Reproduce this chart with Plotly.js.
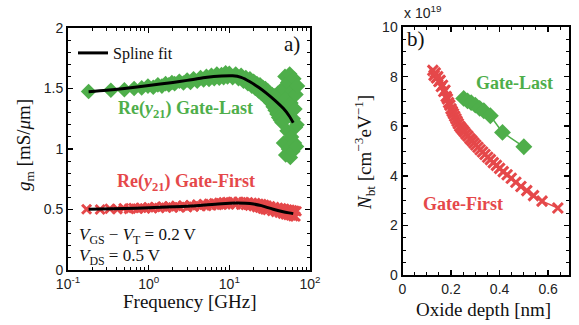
<!DOCTYPE html>
<html>
<head>
<meta charset="utf-8">
<script src="https://cdn.plot.ly/plotly-3.0.1.min.js"></script>
<style>html,body{margin:0;padding:0;background:#fff;}#plot{width:579px;height:325px;}</style>
</head>
<body>
<div id="plot"></div>
<script>
// ---------- Panel a) data ----------
const freqLast = [0.18,0.34,0.5,0.66,0.82,0.98,1.14,1.3,1.46,1.62,1.78,1.94,2.1,2.4,2.7,3.0,3.3,3.6,4.0,4.4,4.8,5.2,5.6,6.0,6.5,7,7.5,8,8.5,9,9.5,10,11,12,13,14,15,16,17,18,19,20,21,22,23,24,25,26,27,28,29,30,31,32,33,34,35,36,37,38,39,40,41,42,43,44,45,46,47,48,49,50,51,52,53,54,55,56,57,58,59,60,61,62,63,64,65,66,67,68,69,70];
const gmLast = [1.475,1.485,1.49,1.50,1.505,1.52,1.51,1.53,1.52,1.54,1.53,1.55,1.54,1.56,1.545,1.57,1.55,1.58,1.56,1.59,1.57,1.60,1.575,1.61,1.58,1.62,1.585,1.615,1.59,1.63,1.595,1.625,1.59,1.62,1.58,1.61,1.56,1.59,1.54,1.58,1.52,1.56,1.50,1.54,1.48,1.53,1.46,1.51,1.44,1.50,1.42,1.48,1.40,1.46,1.38,1.45,1.35,1.44,1.32,1.43,1.29,1.46,1.26,1.44,1.24,1.40,1.22,1.50,1.05,1.35,1.60,0.95,1.42,1.15,1.55,1.00,1.28,1.62,0.93,1.38,1.10,1.48,0.98,1.25,1.58,1.05,1.33,1.18,1.45,1.02,1.20,1.52,1.10,1.35];
const freqFirst = [0.17,0.25,0.33,0.41,0.49,0.57,0.65,0.73,0.81,0.9,1.0,1.1,1.2,1.35,1.5,1.65,1.8,2.0,2.2,2.4,2.7,3.0,3.3,3.6,4.0,4.4,4.8,5.2,5.6,6.0,6.5,7,7.5,8,8.5,9,9.5,10,11,12,13,14,15,16,17,18,19,20,21,22,23,24,25,26,27,28,29,30,32,34,36,38,40,42,44,46,48,50,52,54,56,58,60,62,64,66,68];
const gmFirst = [0.502,0.500,0.506,0.503,0.510,0.505,0.512,0.507,0.515,0.508,0.519,0.510,0.521,0.512,0.525,0.514,0.527,0.516,0.530,0.518,0.533,0.520,0.536,0.523,0.540,0.527,0.544,0.530,0.548,0.534,0.552,0.537,0.556,0.540,0.560,0.542,0.562,0.543,0.563,0.542,0.564,0.540,0.562,0.537,0.560,0.532,0.556,0.528,0.553,0.520,0.548,0.514,0.544,0.506,0.538,0.500,0.532,0.496,0.527,0.488,0.520,0.480,0.514,0.474,0.510,0.466,0.505,0.460,0.500,0.455,0.497,0.450,0.494,0.445,0.490,0.442,0.486];
const splineFreqLast = [0.18,0.3,0.5,1,2,3,5,8,11,14,18,23,29,37,46.6,55,62];
const splineLast = [1.474,1.485,1.50,1.525,1.55,1.567,1.59,1.603,1.605,1.592,1.556,1.51,1.46,1.40,1.336,1.275,1.217];
const splineFreqFirst = [0.18,0.5,1,2,3,5,8,12,16,20,25,30,35,45,55,62];
const splineFirst = [0.502,0.508,0.515,0.522,0.527,0.537,0.548,0.553,0.551,0.545,0.532,0.515,0.502,0.484,0.472,0.466];
const freqTickVals = [0.1,1,10,100];
const freqTickText = ['10<sup>-1</sup>','10<sup>0</sup>','10<sup>1</sup>','10<sup>2</sup>'];

// ---------- Panel b) data (Nbt in units of 1e19) ----------
const depthFirst = [0.125,0.13,0.135,0.14,0.145,0.15,0.155,0.16,0.165,0.17,0.175,0.18,0.185,0.19,0.195,0.2,0.205,0.21,0.215,0.22,0.225,0.23,0.236,0.242,0.248,0.255,0.262,0.27,0.278,0.286,0.294,0.302,0.311,0.32,0.33,0.34,0.351,0.362,0.374,0.387,0.40,0.415,0.431,0.448,0.467,0.488,0.512,0.54,0.575,0.64];
const nbtFirst = [8.25,8.05,8.15,7.95,8.0,7.8,7.85,7.6,7.65,7.4,7.45,7.2,7.1,6.95,6.85,6.7,6.6,6.5,6.4,6.3,6.2,6.1,6.0,5.92,5.85,5.77,5.68,5.6,5.5,5.42,5.33,5.24,5.15,5.05,4.96,4.86,4.75,4.65,4.53,4.42,4.3,4.17,4.04,3.9,3.74,3.57,3.4,3.2,2.98,2.7];
const depthLast = [0.252,0.268,0.283,0.30,0.318,0.335,0.362,0.412,0.50];
const nbtLast = [7.12,7.02,6.95,6.85,6.72,6.62,6.42,5.75,5.17];

const GREEN = 'rgb(78,174,74)';
const RED = 'rgb(229,72,74)';
const SERIF = 'Liberation Serif, DejaVu Serif, serif';
const SANS = 'Liberation Sans, Arial, sans-serif';

const W = 579, H = 325;
const px = x => x / W;
const py = y => 1 - y / H;

function ann(text, x, y, font, extra) {
  return Object.assign({text:text, x:px(x), y:py(y), xref:'paper', yref:'paper',
    xanchor:'center', yanchor:'middle', showarrow:false, font:font}, extra || {});
}

const traces = [
  {x: freqLast, y: gmLast, xaxis:'x', yaxis:'y', mode:'markers', type:'scatter', showlegend:false,
   marker:{symbol:'diamond', size:12, color:GREEN, line:{width:0}}},
  {x: freqFirst, y: gmFirst, xaxis:'x', yaxis:'y', mode:'markers', type:'scatter', showlegend:false,
   marker:{symbol:'x-thin', size:9, color:RED, line:{width:3, color:RED}}},
  {x: splineFreqLast, y: splineLast, xaxis:'x', yaxis:'y', mode:'lines', type:'scatter', name:'Spline fit', showlegend:true,
   line:{color:'black', width:3, shape:'spline', smoothing:0.8}},
  {x: splineFreqFirst, y: splineFirst, xaxis:'x', yaxis:'y', mode:'lines', type:'scatter', showlegend:false,
   line:{color:'black', width:3, shape:'spline', smoothing:0.8}},
  {x: depthFirst, y: nbtFirst, xaxis:'x2', yaxis:'y2', mode:'lines+markers', type:'scatter', showlegend:false,
   line:{color:RED, width:1.5},
   marker:{symbol:'x-thin', size:10, color:RED, line:{width:3, color:RED}}},
  {x: depthLast, y: nbtLast, xaxis:'x2', yaxis:'y2', mode:'lines+markers', type:'scatter', showlegend:false,
   line:{color:GREEN, width:1.5},
   marker:{symbol:'diamond', size:13, color:GREEN, line:{width:0}}}
];

const axCommon = {
  showline:true, linecolor:'black', linewidth:2, mirror:'ticks',
  ticks:'inside', ticklen:5, tickwidth:1.5, tickcolor:'black',
  showgrid:false, zeroline:false,
  tickfont:{family:SANS, size:14, color:'#222'}
};

const serifText = {family:SERIF, size:17, color:'#111'};
const serifTitle = {family:SERIF, size:19, color:'#111'};

const layout = {
  width:W, height:H, margin:{l:0,r:0,t:0,b:0},
  paper_bgcolor:'white', plot_bgcolor:'white',
  xaxis: Object.assign({}, axCommon, {
    type:'log', domain:[px(68), px(310)], range:[-1, 2], anchor:'y',
    tickvals:freqTickVals, ticktext:freqTickText,
    minor:{ticks:'inside', ticklen:3, tickwidth:1, tickcolor:'black', dtick:'D1', showgrid:false}
  }),
  yaxis: Object.assign({}, axCommon, {
    domain:[py(270), py(28)], range:[0, 2], anchor:'x',
    tickvals:[0,0.5,1,1.5,2], ticktext:['0','0.5','1','1.5','2'],
    minor:{ticks:'inside', ticklen:3, tickwidth:1, tickcolor:'black', dtick:0.1, showgrid:false}
  }),
  xaxis2: Object.assign({}, axCommon, {
    domain:[px(402.5), px(568.5)], range:[0, 0.684], anchor:'y2',
    tickvals:[0,0.2,0.4,0.6], ticktext:['0','0.2','0.4','0.6'],
    minor:{ticks:'inside', ticklen:3, tickwidth:1, tickcolor:'black', dtick:0.05, showgrid:false}
  }),
  yaxis2: Object.assign({}, axCommon, {
    domain:[py(275), py(27)], range:[0, 10], anchor:'x2',
    tickvals:[0,2,4,6,8,10], ticktext:['0','2','4','6','8','10'],
    minor:{ticks:'inside', ticklen:3, tickwidth:1, tickcolor:'black', dtick:0.5, showgrid:false}
  }),
  showlegend:true,
  legend:{x:px(73), y:py(36), xanchor:'left', yanchor:'top', bgcolor:'rgba(0,0,0,0)',
          font:{family:SERIF, size:16, color:'#111'}, itemwidth:30, tracegroupgap:0},
  annotations:[
    ann('a)', 292, 44, {family:SERIF, size:21, color:'#111'}),
    ann('<b>Re(<i>y</i><sub>21</sub>) Gate-Last</b>', 185, 109, {family:SERIF, size:18, color:GREEN}),
    ann('<b>Re(<i>y</i><sub>21</sub>) Gate-First</b>', 186, 182, {family:SERIF, size:18, color:RED}),
    ann('<i>V</i><sub>GS</sub> − <i>V</i><sub>T</sub> = 0.2 V', 77, 236, serifText, {xanchor:'left'}),
    ann('<i>V</i><sub>DS</sub> = 0.5 V', 77, 257, serifText, {xanchor:'left'}),
    ann('Frequency [GHz]', 189, 301, serifTitle),
    ann('<i>g</i><sub>m</sub> [mS/<i>μ</i>m]', 25, 145, serifTitle, {textangle:-90}),
    ann('b)', 416, 39, {family:SERIF, size:21, color:'#111'}),
    ann('<b>Gate-Last</b>', 514, 83, {family:SERIF, size:18, color:GREEN}),
    ann('<b>Gate-First</b>', 463, 204, {family:SERIF, size:18, color:RED}),
    ann('x 10<sup>19</sup>', 402, 12, {family:SANS, size:14, color:'#222'}, {xanchor:'left'}),
    ann('Oxide depth [nm]', 483, 309, serifTitle),
    ann('<i>N</i><sub>bt</sub> [cm<sup>−3</sup>eV<sup>−1</sup>]', 365, 152, serifTitle, {textangle:-90})
  ]
};

Plotly.newPlot('plot', traces, layout, {displayModeBar:false, staticPlot:true});
</script>
</body>
</html>
